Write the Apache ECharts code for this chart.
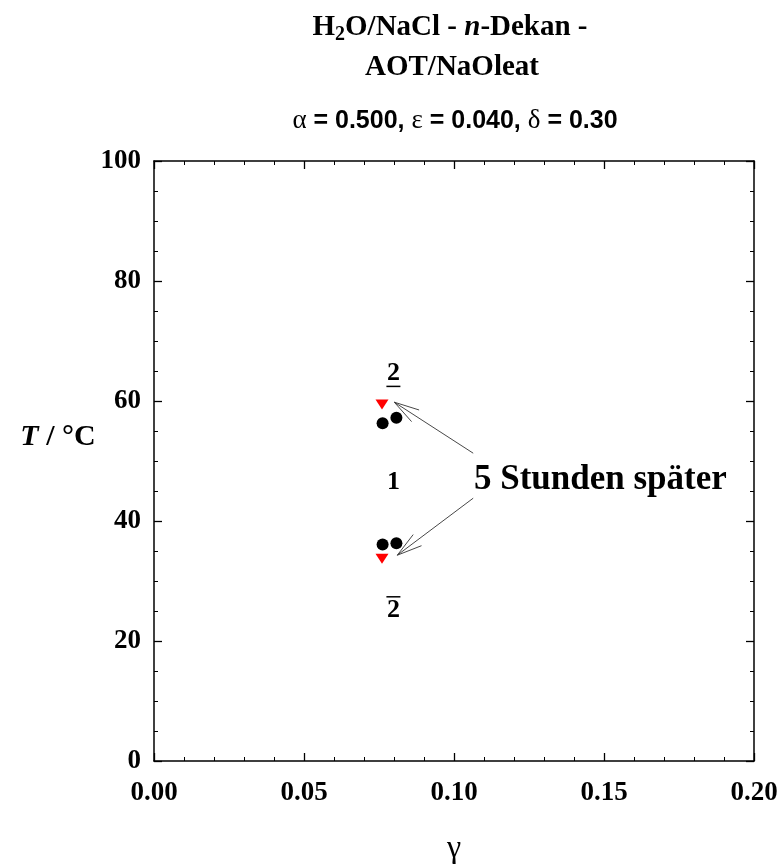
<!DOCTYPE html>
<html><head><meta charset="utf-8">
<script src="https://cdn.jsdelivr.net/npm/echarts@6/dist/echarts.min.js"></script>
<style>html,body{margin:0;padding:0;background:#fff}#c{width:782px;height:865px}</style>
</head><body><div id="c"></div>
<script>
// ---- data ----
const xMin = 0, xMax = 0.20, xStep = 0.05;
const yMin = 0, yMax = 100, yStep = 20;
const circleGamma = [0.0762, 0.0808, 0.0762, 0.0808];
const circleT     = [56.3, 57.2, 36.1, 36.3];
const triGamma    = [0.0760, 0.0760];
const triT        = [59.4, 33.7];
const regionText  = ['2', '1', '2'];
const regionDecor = ['under', 'none', 'over'];
const regionGamma = [0.0798, 0.0798, 0.0798];
const regionT     = [64.6, 46.4, 25.2];
const noteText    = '5 Stunden später';
const noteGamma   = [0.1488];
const noteT       = [46.9];
const arrowFromGamma = [0.1064, 0.1064];
const arrowFromT     = [51.3, 43.8];
const arrowToGamma   = [0.0801, 0.0811];
const arrowToT       = [59.8, 34.3];

const SERIF = "'Liberation Serif','Times New Roman',serif";
const SANS = "'Liberation Sans',Arial,sans-serif";

const chart = echarts.init(document.getElementById('c'), null, {renderer: 'canvas'});

const axisLine = {show: true, onZero: false, lineStyle: {color: '#000', width: 1.5}};
const tickLabel = {color: '#000', fontFamily: SERIF, fontWeight: 'bold', fontSize: 27};

function xAx(pos, showLabel) {
  return {
    type: 'value', position: pos, min: xMin, max: xMax, interval: xStep,
    axisLine: axisLine,
    axisTick: {show: true, inside: true, length: 8, lineStyle: {color: '#000', width: 1.3}},
    minorTick: {show: true, splitNumber: 5, length: 4, lineStyle: {color: '#000', width: 1}},
    splitLine: {show: false}, minorSplitLine: {show: false},
    axisLabel: Object.assign({show: showLabel, margin: 19, formatter: v => v.toFixed(2)}, tickLabel)
  };
}
function yAx(pos, showLabel) {
  return {
    type: 'value', position: pos, min: yMin, max: yMax, interval: yStep,
    axisLine: axisLine,
    axisTick: {show: true, inside: true, length: 8, lineStyle: {color: '#000', width: 1.3}},
    minorTick: {show: true, splitNumber: 4, length: 4, lineStyle: {color: '#000', width: 1}},
    splitLine: {show: false}, minorSplitLine: {show: false},
    axisLabel: Object.assign({show: showLabel, margin: 13}, tickLabel)
  };
}

const xA = xAx('bottom', true);
xA.name = 'γ';
xA.nameLocation = 'middle';
xA.nameGap = 72;
xA.nameTextStyle = {color: '#000', fontFamily: SERIF, fontSize: 32};

const circles = circleGamma.map((g, i) => [g, circleT[i]]);
const tris = triGamma.map((g, i) => [g, triT[i]]);
const regions = regionGamma.map((g, i) => [g, regionT[i], i]);
const arrows = arrowFromGamma.map((g, i) => [g, arrowFromT[i], arrowToGamma[i], arrowToT[i]]);
const notes = noteGamma.map((g, i) => [g, noteT[i]]);

chart.setOption({
  animation: false,
  backgroundColor: '#fff',
  grid: {left: 154, right: 28, top: 161, bottom: 104, containLabel: false, outerBoundsMode: 'none'},
  xAxis: [xA, xAx('top', false)],
  yAxis: [yAx('left', true), yAx('right', false)],
  graphic: [
    {type: 'text', x: 450, y: 28, style: {
      text: '{n|H}{s|2}{n|O/NaCl - }{i|n}{n|-Dekan -}',
      align: 'center', verticalAlign: 'middle',
      rich: {
        n: {fontFamily: SERIF, fontWeight: 'bold', fontSize: 29, fill: '#000'},
        i: {fontFamily: SERIF, fontWeight: 'bold', fontStyle: 'italic', fontSize: 29, fill: '#000'},
        s: {fontFamily: SERIF, fontWeight: 'bold', fontSize: 20, fill: '#000', padding: [14, 0, 0, 0]}
      }}},
    {type: 'text', x: 452, y: 68, style: {
      text: 'AOT/NaOleat', align: 'center', verticalAlign: 'middle',
      font: "bold 29px 'Liberation Serif'", fill: '#000'}},
    {type: 'text', x: 455, y: 121, style: {
      text: '{g|α}{n| = 0.500, }{g|ε}{n| = 0.040, }{g|δ}{n| = 0.30}',
      align: 'center', verticalAlign: 'middle',
      rich: {
        n: {fontFamily: SANS, fontWeight: 'bold', fontSize: 25, fill: '#000'},
        g: {fontFamily: SERIF, fontSize: 27, fill: '#000'}
      }}},
    {type: 'text', x: 58, y: 437, style: {
      text: '{i|T}{n| / °C}', align: 'center', verticalAlign: 'middle',
      rich: {
        i: {fontFamily: SERIF, fontWeight: 'bold', fontStyle: 'italic', fontSize: 30, fill: '#000'},
        n: {fontFamily: SERIF, fontWeight: 'bold', fontSize: 30, fill: '#000'}
      }}}
  ],
  series: [
    {
      type: 'custom', name: 'arrows', coordinateSystem: 'cartesian2d',
      encode: {x: [0, 2], y: [1, 3]},
      data: arrows, silent: true, z: 3,
      renderItem: function (params, api) {
        const p0 = api.coord([api.value(0), api.value(1)]);
        const p1 = api.coord([api.value(2), api.value(3)]);
        const ang = Math.atan2(p0[1] - p1[1], p0[0] - p1[0]);
        const L = 26, h = 0.27;
        const b1 = [p1[0] + L * Math.cos(ang + h), p1[1] + L * Math.sin(ang + h)];
        const b2 = [p1[0] + L * Math.cos(ang - h), p1[1] + L * Math.sin(ang - h)];
        const st = {stroke: '#333', lineWidth: 0.9, fill: null};
        return {type: 'group', children: [
          {type: 'line', shape: {x1: p0[0], y1: p0[1], x2: p1[0], y2: p1[1]}, style: st},
          {type: 'polyline', shape: {points: [b1, p1, b2]}, style: st}
        ]};
      }
    },
    {
      type: 'scatter', name: 'circles', data: circles, symbol: 'circle', symbolSize: 12,
      itemStyle: {color: '#000', opacity: 1}, z: 4
    },
    {
      type: 'scatter', name: 'triangles', data: tris, symbol: 'triangle', symbolRotate: 180,
      symbolSize: [13, 10], itemStyle: {color: '#ff0000', opacity: 1}, z: 5
    },
    {
      type: 'custom', name: 'regions', coordinateSystem: 'cartesian2d',
      encode: {x: 0, y: 1}, data: regions, silent: true, z: 6,
      renderItem: function (params, api) {
        const p = api.coord([api.value(0), api.value(1)]);
        const idx = api.value(2);
        const kids = [{type: 'text', x: p[0], y: p[1], style: {
          text: regionText[idx], align: 'center', verticalAlign: 'middle',
          font: "bold 26px 'Liberation Serif'", fill: '#000'}}];
        if (regionDecor[idx] === 'under') {
          kids.push({type: 'line', shape: {x1: p[0] - 7, y1: p[1] + 13, x2: p[0] + 7, y2: p[1] + 13},
            style: {stroke: '#000', lineWidth: 1.5}});
        } else if (regionDecor[idx] === 'over') {
          kids.push({type: 'line', shape: {x1: p[0] - 7, y1: p[1] - 13, x2: p[0] + 7, y2: p[1] - 13},
            style: {stroke: '#000', lineWidth: 1.5}});
        }
        return {type: 'group', children: kids};
      }
    },
    {
      type: 'custom', name: 'note', coordinateSystem: 'cartesian2d',
      encode: {x: 0, y: 1}, data: notes, silent: true, z: 6,
      renderItem: function (params, api) {
        const p = api.coord([api.value(0), api.value(1)]);
        return {type: 'text', x: p[0], y: p[1], style: {
          text: noteText, align: 'center', verticalAlign: 'middle',
          font: "bold 35px 'Liberation Serif'", fill: '#000'}};
      }
    }
  ]
});
</script>
</body></html>
